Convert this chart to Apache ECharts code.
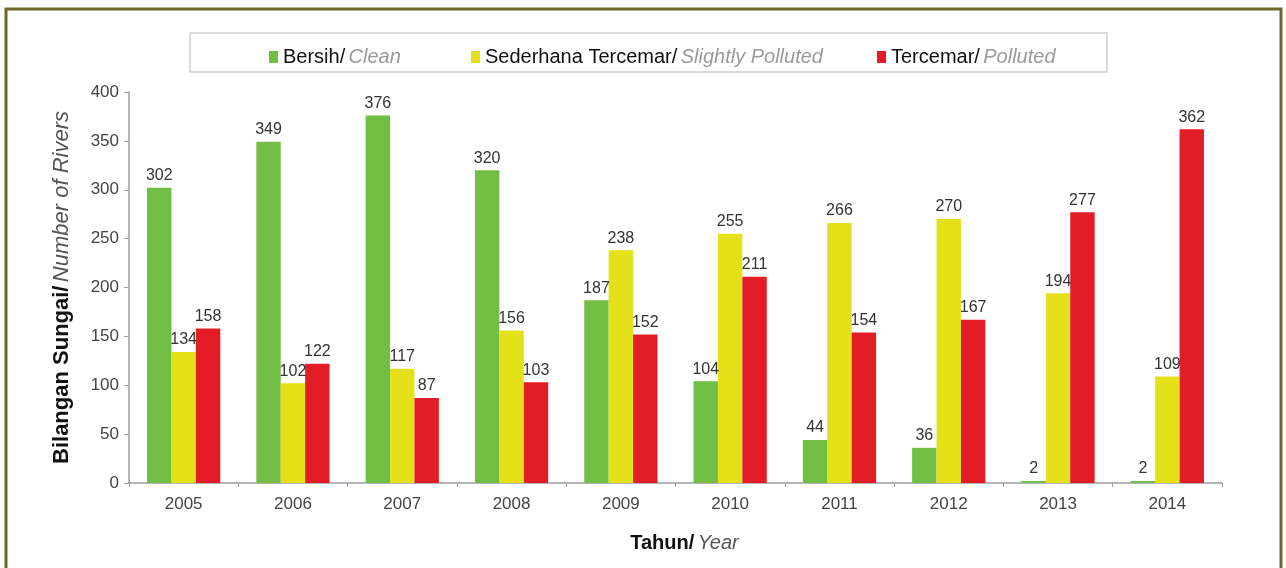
<!DOCTYPE html>
<html>
<head>
<meta charset="utf-8">
<script src="https://cdn.jsdelivr.net/npm/echarts@6/dist/echarts.min.js"></script>
<style>
  html, body { margin: 0; padding: 0; background: #fff; }
  #main { width: 1286px; height: 568px; }
</style>
</head>
<body>
<div id="main"></div>
<script>
// warna
var color = ['#72bd43', '#e4e11b', '#e21d25'];

// tahun
var years = ['2005', '2006', '2007', '2008', '2009', '2010', '2011', '2012', '2013', '2014'];

// nama siri: [melayu, english]
var names = [
  ['Bersih/', 'Clean'],
  ['Sederhana Tercemar/', 'Slightly Polluted'],
  ['Tercemar/', 'Polluted']
];

var clean    = [302, 349, 376, 320, 187, 104, 44, 36, 2, 2];
var slightly = [134, 102, 117, 156, 238, 255, 266, 270, 194, 109];
var polluted = [158, 122, 87, 103, 152, 211, 154, 167, 277, 362];

var values = [clean, slightly, polluted];

var font = 'Liberation Sans, Arial, sans-serif';
var legendLeft = [264, 466, 872];

function fullName(i){ return names[i][0] + ' ' + names[i][1]; }

function makeSeries(){
  var res = [];
  for (var i = 0; i < values.length; i++) {
    res.push({
      name: fullName(i),
      type: 'bar',
      data: values[i],
      barGap: '0%',
      barCategoryGap: '33%',
      itemStyle: { color: color[i] },
      label: {
        show: true,
        position: 'top',
        distance: 4,
        color: '#333',
        fontSize: 16,
        fontFamily: font
      }
    });
  }
  return res;
}

// satu legend untuk setiap siri, supaya jarak sama seperti asal
function makeLegends(){
  var res = [];
  for (var i = 0; i < names.length; i++) {
    res.push({
      data: [fullName(i)],
      left: legendLeft[i],
      top: 42,
      itemWidth: 9,
      itemHeight: 12,
      itemGap: 6,
      icon: 'rect',
      z: 10,
      formatter: function(name){
        for (var k = 0; k < names.length; k++) {
          if (name === fullName(k)) return '{a|' + names[k][0] + '} {b|' + names[k][1] + '}';
        }
        return name;
      },
      textStyle: {
        rich: {
          a: { fontSize: 20, color: '#111', fontFamily: font },
          b: { fontSize: 20, color: '#9a9a9a', fontStyle: 'italic', fontFamily: font }
        }
      }
    });
  }
  return res;
}

var chart = echarts.init(document.getElementById('main'));
chart.setOption({
  animation: false,
  textStyle: { fontFamily: font },
  graphic: [
    { // bingkai luar
      type: 'rect',
      shape: { x: 6, y: 9, width: 1275, height: 590 },
      style: { fill: 'none', stroke: '#6b6a2c', lineWidth: 3 },
      silent: true
    },
    { // kotak legend
      type: 'rect',
      shape: { x: 190, y: 33, width: 917, height: 39 },
      style: { fill: '#fff', stroke: '#cfcfcf', lineWidth: 1.5 },
      z: 0,
      silent: true
    }
  ],
  legend: makeLegends(),
  grid: { left: 129, right: 64, top: 92, bottom: 85, containLabel: false },
  xAxis: {
    type: 'category',
    data: years,
    name: '{a|Tahun/} {b|Year}',
    nameLocation: 'middle',
    nameGap: 50,
    nameTextStyle: {
      padding: [0, 0, 0, 18],
      rich: {
        a: { fontSize: 20, fontWeight: 'bold', color: '#111', fontFamily: font },
        b: { fontSize: 20, fontStyle: 'italic', color: '#555', fontFamily: font }
      }
    },
    axisLine: { lineStyle: { color: '#9a9fa6', width: 1.5 } },
    axisTick: { show: true, length: 4, lineStyle: { color: '#9a9fa6' } },
    axisLabel: { color: '#444', fontSize: 17, margin: 13 }
  },
  yAxis: {
    type: 'value',
    min: 0,
    max: 400,
    interval: 50,
    name: '{a|Bilangan Sungai/} {b|Number of Rivers}',
    nameLocation: 'middle',
    nameGap: 56,
    nameRotate: 90,
    nameTextStyle: {
      rich: {
        a: { fontSize: 22, fontWeight: 'bold', color: '#111', fontFamily: font },
        b: { fontSize: 22, fontStyle: 'italic', color: '#555', fontFamily: font }
      }
    },
    axisLine: { show: true, lineStyle: { color: '#9a9fa6', width: 1.5 } },
    axisTick: { show: true, length: 5, lineStyle: { color: '#9a9fa6' } },
    axisLabel: { color: '#444', fontSize: 17, margin: 10 },
    splitLine: { show: false }
  },
  series: makeSeries()
});
</script>
</body>
</html>
